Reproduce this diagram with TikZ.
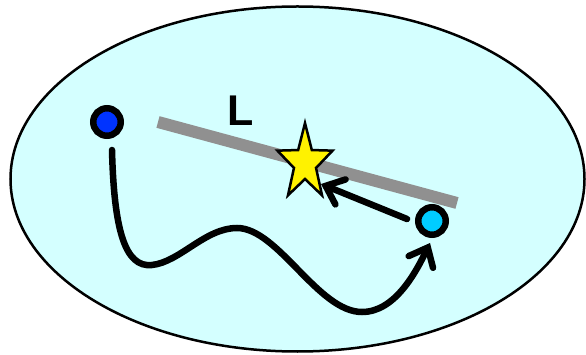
\documentclass[tikz,border=0pt]{standalone}
\usepackage{fontspec}
\setmainfont{Liberation Sans}
\usetikzlibrary{arrows.meta}
\definecolor{bgcyan}{RGB}{212,255,255}
\definecolor{dotblue}{RGB}{0,51,255}
\definecolor{dotcyan}{RGB}{0,204,255}
\definecolor{linegray}{RGB}{144,144,144}
\tikzset{
  region/.style={draw=black, line width=2.5pt, fill=bgcyan},
  dot/.style={circle, draw=black, line width=6.5pt, minimum size=27.5pt, inner sep=0pt},
  thick arrow/.style={line width=6.5pt, line cap=round, -{Straight Barb[length=16pt,width=27pt,line cap=round]}},
  starstyle/.style={draw=black, line width=2.5pt, fill=yellow, line join=miter},
  graybar/.style={draw=linegray, line width=12pt},
  label text/.style={font=\fontsize{43}{43}\selectfont\bfseries, inner sep=0pt},
}
\begin{document}
\begin{tikzpicture}[x=1pt,y=-1pt]
\useasboundingbox (0,0) rectangle (586,355);
% region
\draw[region] (297.5,179) ellipse [x radius=287pt, y radius=172.5pt];
% line L
\coordinate (L1) at (158,122);
\coordinate (L2) at (457,203);
\draw[graybar] (L1) -- (L2);
\node[label text] (lab) at (241,111) {L};
% star
\draw[starstyle] plot[samples at={0,...,9}] ({305+29*(1-0.6*mod(\x,2))*cos(90+36*\x)},{163-40*(1-0.6*mod(\x,2))*sin(90+36*\x)}) -- cycle;
% dots
\node[dot, fill=dotblue] (p) at (107,122) {};
\node[dot, fill=dotcyan] (q) at (432,221) {};
% arrows
\coordinate (tail) at (407,219);
\coordinate (tip) at (321,184);
\draw[thick arrow] (tail) -- (tip);
\coordinate (cstart) at (112,150);
\coordinate (cend) at (430,243);
\draw[thick arrow] (cstart) .. controls (114,230) and (125,268) .. (152,265)
  .. controls (180,262) and (205,228) .. (237,228)
  .. controls (278,228) and (318,312) .. (362,312)
  .. controls (395,312) and (416,272) .. (cend);
\end{tikzpicture}
\end{document}
